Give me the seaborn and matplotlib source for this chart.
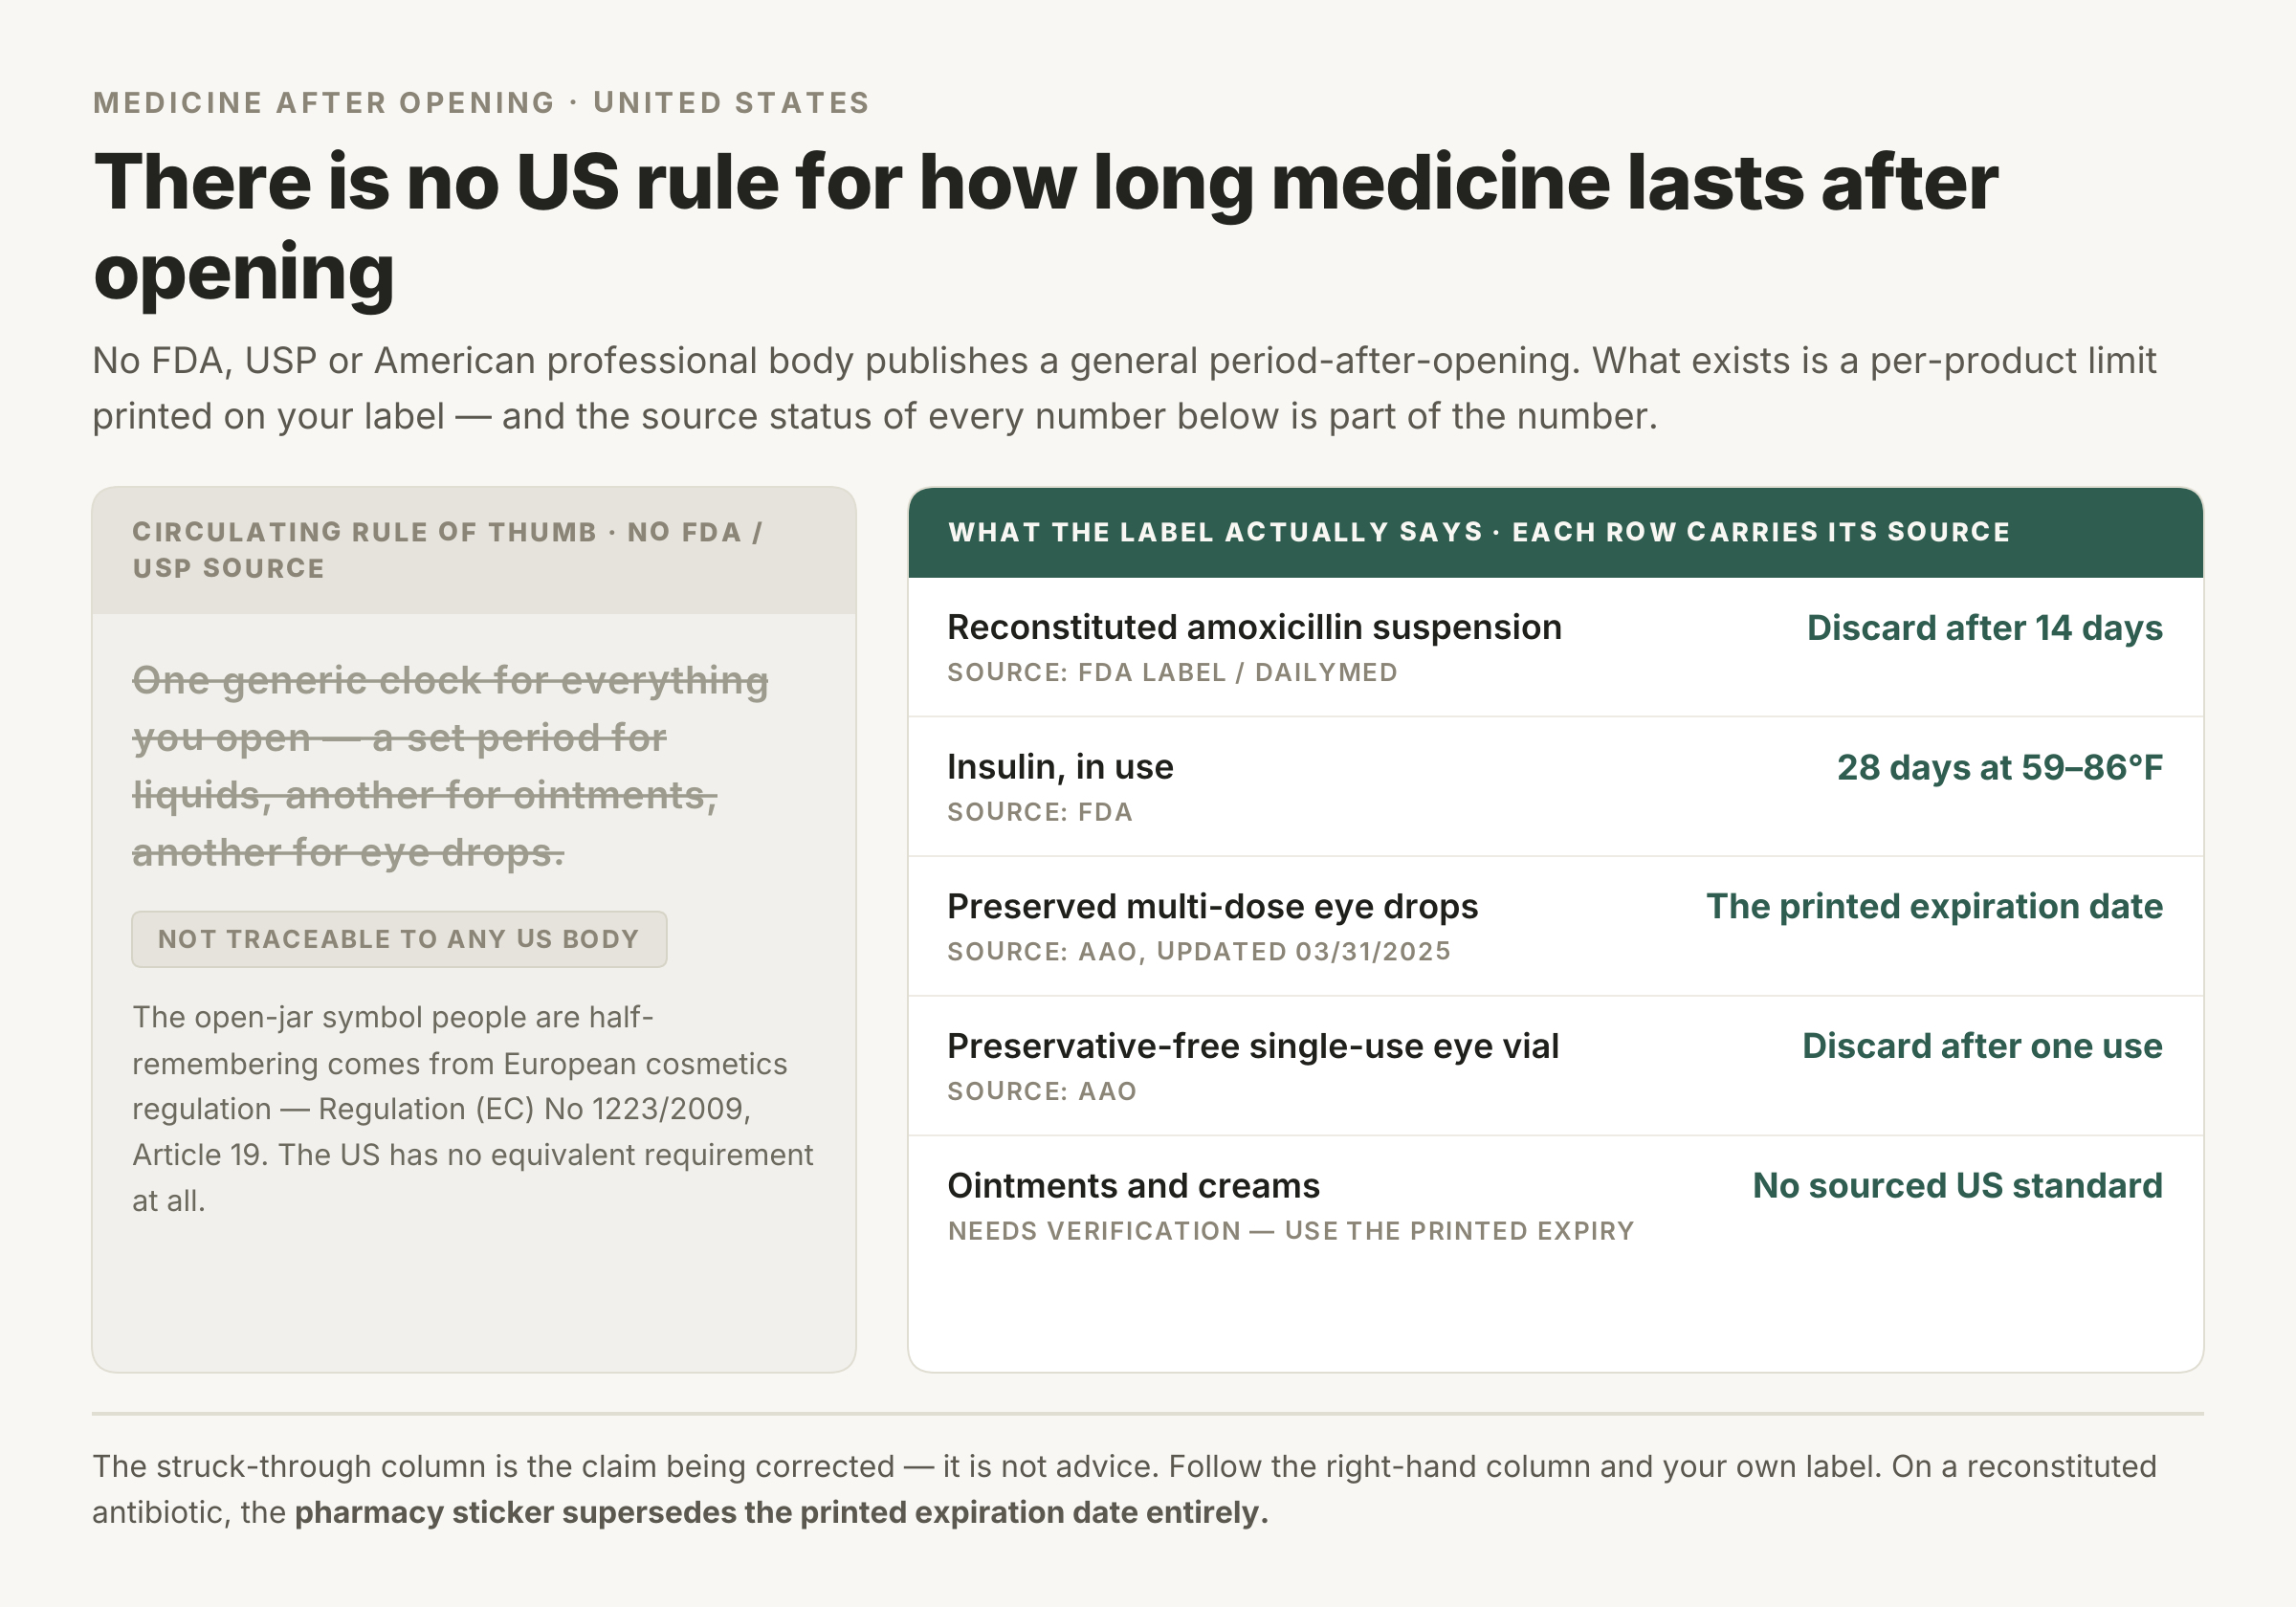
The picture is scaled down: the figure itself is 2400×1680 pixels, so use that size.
import matplotlib
matplotlib.use("Agg")
import matplotlib.pyplot as plt
import seaborn as sns
from matplotlib.font_manager import FontProperties
from matplotlib.patches import FancyBboxPatch, Rectangle

eyebrow = "MEDICINE AFTER OPENING · UNITED STATES"
title_lines = ["There is no US rule for how long medicine lasts after", "opening"]
subtitle_lines = [
    "No FDA, USP or American professional body publishes a general period-after-opening. What exists is a per-product limit",
    "printed on your label — and the source status of every number below is part of the number.",
]
left_head = ["CIRCULATING RULE OF THUMB · NO FDA /", "USP SOURCE"]
struck_lines = [
    "One generic clock for everything",
    "you open — a set period for",
    "liquids, another for ointments,",
    "another for eye drops.",
]
chip_label = "NOT TRACEABLE TO ANY US BODY"
left_body = [
    "The open-jar symbol people are half-",
    "remembering comes from European cosmetics",
    "regulation — Regulation (EC) No 1223/2009,",
    "Article 19. The US has no equivalent requirement",
    "at all.",
]
right_head = "WHAT THE LABEL ACTUALLY SAYS · EACH ROW CARRIES ITS SOURCE"
row_labels = [
    "Reconstituted amoxicillin suspension",
    "Insulin, in use",
    "Preserved multi-dose eye drops",
    "Preservative-free single-use eye vial",
    "Ointments and creams",
]
row_sources = [
    "SOURCE: FDA LABEL / DAILYMED",
    "SOURCE: FDA",
    "SOURCE: AAO, UPDATED 03/31/2025",
    "SOURCE: AAO",
    "NEEDS VERIFICATION — USE THE PRINTED EXPIRY",
]
row_values = [
    "Discard after 14 days",
    "28 days at 59–86°F",
    "The printed expiration date",
    "Discard after one use",
    "No sourced US standard",
]
foot_line1 = "The struck-through column is the claim being corrected — it is not advice. Follow the right-hand column and your own label. On a reconstituted"
foot_line2 = "antibiotic, the "
foot_bold = "pharmacy sticker supersedes the printed expiration date entirely."

BG = "#F8F7F3"
INK = "#23241F"
MUTED = "#8A8577"
SUB = "#5A584F"
GREEN = "#2F5D50"
PANEL = "#F1F0EC"
HEAD = "#E5E3DB"
EDGE = "#E0DED3"
STRUCK = "#9C9B8D"
BODY = "#6C6A5F"

sns.set_theme(style="white", rc={"figure.facecolor": BG, "text.hinting": "no_hinting", "text.hinting_factor": 1})
plt.rcParams["font.family"] = ["Inter", "DejaVu Sans"]

fig = plt.figure(figsize=(12, 8.4), dpi=200)
ax = fig.add_axes([0, 0, 1, 1])
ax.set_xlim(0, 2400)
ax.set_ylim(1680, 0)
ax.axis("off")
renderer = fig.canvas.get_renderer()
PT = 72 / 200


def width(s, px, weight):
    prop = FontProperties(family="Inter", weight=weight, size=px * PT)
    w, _, _ = renderer.get_text_width_height_descent(s + "x", prop, False)
    w0, _, _ = renderer.get_text_width_height_descent("x", prop, False)
    return w - w0


def put(x, y, s, px, weight=400, color=INK, track=0, ha="left"):
    total = width(s, px, weight) + track * (len(s) - 1)
    if ha == "right":
        x = x - total
    if track == 0:
        ax.text(x, y, s, fontsize=px * PT, fontweight=weight, color=color, va="baseline", ha="left", zorder=4)
    else:
        for i, ch in enumerate(s):
            if ch != " ":
                ax.text(x + width(s[:i], px, weight) + track * i, y, ch, fontsize=px * PT,
                        fontweight=weight, color=color, va="baseline", ha="left", zorder=4)
    return x + total


def panel(x0, y0, x1, y1, face, edge, r=28, lw=2, z=1):
    p = FancyBboxPatch((x0, y0), x1 - x0, y1 - y0, boxstyle=f"round,pad=0,rounding_size={r}",
                       fc=face, ec=edge, lw=lw * PT, zorder=z)
    ax.add_patch(p)
    return p


# header block
put(96, 118, eyebrow, 30, 700, MUTED, track=4.05)
for y, s in zip([218, 312], title_lines):
    put(96, y, s, 80, 800, INK, track=-1.13)
for y, s in zip([391, 448], subtitle_lines):
    put(96, y, s, 37.92, 400, SUB)

# left panel
lp = panel(96, 509, 895, 1435, PANEL, "none")
ax.add_patch(Rectangle((96, 509), 799, 133, fc=HEAD, ec="none", zorder=1.5, clip_path=lp))
panel(96, 509, 895, 1435, "none", EDGE, z=2)
for y, s in zip([566, 604], left_head):
    put(138, y, s, 27, 800, MUTED, track=2.96)
for y, s in zip([725, 785, 845, 905], struck_lines):
    end = put(138, y, s, 40, 600, STRUCK, track=1.0)
    ax.plot([138, end], [y - 13.5, y - 13.5], color=STRUCK, lw=3.5 * PT, solid_capstyle="butt", zorder=3)
panel(138, 953, 697, 1011, HEAD, "#D6D4C6", r=10)
put(164, 991, chip_label, 26, 700, MUTED, track=1.97)
for y, s in zip([1075, 1123, 1170, 1218, 1266], left_body):
    put(138, y, s, 30.95, 400, BODY)

# right panel
rp = panel(949, 509, 2304, 1435, "white", "none")
ax.add_patch(Rectangle((949, 509), 1355, 95, fc=GREEN, ec="none", zorder=1.5, clip_path=rp))
panel(949, 509, 2304, 1435, "none", EDGE, z=2)
put(990, 566, right_head, 27, 800, BG, track=2.9)
for i in range(len(row_labels)):
    y = 668 + 146 * i
    put(990, y, row_labels[i], 35.85, 600, "#1F1F1B")
    put(990, y + 44, row_sources[i], 26, 600, MUTED, track=1.72)
    put(2262, y + 1, row_values[i], 36.2, 700, GREEN, ha="right")
    if i < len(row_labels) - 1:
        ax.plot([950, 2303], [749 + 146 * i] * 2, color="#EEEBE4", lw=2 * PT, solid_capstyle="butt", zorder=2)

# footer
ax.plot([96, 2304], [1478, 1478], color=EDGE, lw=4 * PT, solid_capstyle="butt")
put(96, 1544, foot_line1, 31.9, 400, SUB)
end = put(96, 1592, foot_line2, 31.9, 400, SUB)
put(end, 1592, foot_bold, 31.9, 700, SUB)

fig.savefig("out.png", dpi=200, facecolor=BG)
